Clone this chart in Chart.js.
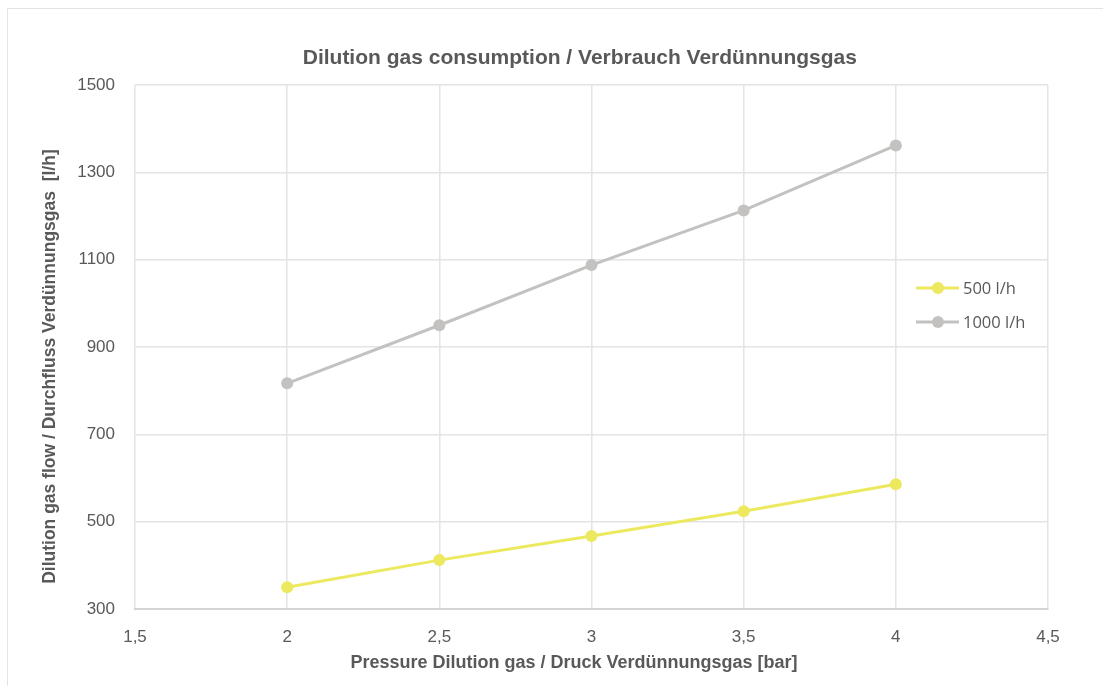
<!DOCTYPE html>
<html>
<head>
<meta charset="utf-8">
<script src="https://cdn.jsdelivr.net/npm/chart.js@4/dist/chart.umd.min.js"></script>
<style>
  html, body { margin: 0; padding: 0; background: #fff; }
  #wrap { position: relative; width: 1103px; height: 686px; overflow: hidden; }
  #frame { position: absolute; left: 7px; top: 8px; width: 1110px; height: 700px; border: 1px solid #e3e3e3; box-sizing: border-box; }
  canvas { position: absolute; left: 0; top: 0; }
</style>
</head>
<body>
<div id="wrap">
  <div id="frame"></div>
  <canvas id="chart" width="1103" height="686"></canvas>
</div>
<script>
// ========================================
// DATA
// ========================================
const pressures = [2, 2.5, 3, 3.5, 4];
const flow500 = [350, 412, 467, 524, 586];
const flow1000 = [817, 950, 1088, 1213, 1362];
const seriesNames = ["500 l/h", "1000 l/h"];
const seriesColors = ["#ece95f", "#c3c2c0"];

const textGray = "#595959";
const gridGray = "#e4e4e4";
const fontFam = '"Liberation Sans", Arial, sans-serif';

function toPoints(xs, ys) {
  return xs.map((x, i) => ({ x: x, y: ys[i] }));
}

// Legende innerhalb der Zeichenfläche (wie im Original)
const insideLegend = {
  id: "insideLegend",
  afterDraw(chart) {
    const ctx = chart.ctx;
    const x0 = 916;
    const rows = [288, 322];
    ctx.save();
    chart.data.datasets.forEach((ds, i) => {
      const y = rows[i];
      ctx.strokeStyle = ds.borderColor;
      ctx.lineWidth = 3;
      ctx.beginPath();
      ctx.moveTo(x0, y);
      ctx.lineTo(x0 + 43, y);
      ctx.stroke();
      ctx.fillStyle = ds.backgroundColor;
      ctx.beginPath();
      ctx.arc(x0 + 22, y, 6, 0, Math.PI * 2);
      ctx.fill();
      ctx.fillStyle = textGray;
      ctx.font = '16.5px "Open Sans", sans-serif';
      ctx.textBaseline = "middle";
      ctx.fillText(ds.label, x0 + 47, y + 1);
    });
    ctx.restore();
  },
};

new Chart(document.getElementById("chart"), {
  type: "line",
  data: {
    datasets: [
      {
        label: seriesNames[0],
        data: toPoints(pressures, flow500),
        borderColor: seriesColors[0],
        backgroundColor: seriesColors[0],
        borderWidth: 3,
        pointRadius: 6,
        pointHoverRadius: 6,
        pointBorderWidth: 0,
      },
      {
        label: seriesNames[1],
        data: toPoints(pressures, flow1000),
        borderColor: seriesColors[1],
        backgroundColor: seriesColors[1],
        borderWidth: 3,
        pointRadius: 6,
        pointHoverRadius: 6,
        pointBorderWidth: 0,
      },
    ],
  },
  options: {
    responsive: false,
    animation: false,
    layout: { padding: { left: 0, right: 55, top: 0, bottom: 0 } },
    plugins: {
      legend: { display: false },
      tooltip: { enabled: false },
      title: {
        display: true,
        fullSize: false,
        text: "Dilution gas consumption / Verbrauch Verdünnungsgas    ",
        color: textGray,
        font: { family: fontFam, size: 21, weight: "bold" },
        padding: { top: 46, bottom: 14 },
      },
    },
    scales: {
      x: {
        type: "linear",
        min: 1.5,
        max: 4.5,
        afterFit: (scale) => { scale.height = 77; },
        ticks: {
          stepSize: 0.5,
          padding: 18,
          color: textGray,
          font: { family: fontFam, size: 17 },
          callback: (v) => String(v).replace(".", ","),
        },
        grid: { color: gridGray, lineWidth: 1.5, drawTicks: false },
        border: { color: "#d4d4d4", width: 2 },
        title: {
          display: true,
          text: "Pressure Dilution gas / Druck Verdünnungsgas [bar]       ",
          color: textGray,
          font: { family: fontFam, size: 18, weight: "bold" },
          padding: { top: 0, bottom: 12 },
        },
      },
      y: {
        min: 300,
        max: 1500,
        afterFit: (scale) => { scale.width = 135; },
        ticks: {
          stepSize: 200,
          padding: 20,
          color: textGray,
          font: { family: fontFam, size: 17 },
          callback: (v) => String(v),
        },
        grid: { color: gridGray, lineWidth: 1.5, drawTicks: false },
        border: { display: false },
        title: {
          display: true,
          text: "Dilution gas flow / Durchfluss Verdünnungsgas  [l/h]        ",
          color: textGray,
          font: { family: fontFam, size: 17.5, weight: "bold" },
          padding: { top: 40, bottom: 0 },
        },
      },
    },
  },
  plugins: [insideLegend],
});
</script>
</body>
</html>
